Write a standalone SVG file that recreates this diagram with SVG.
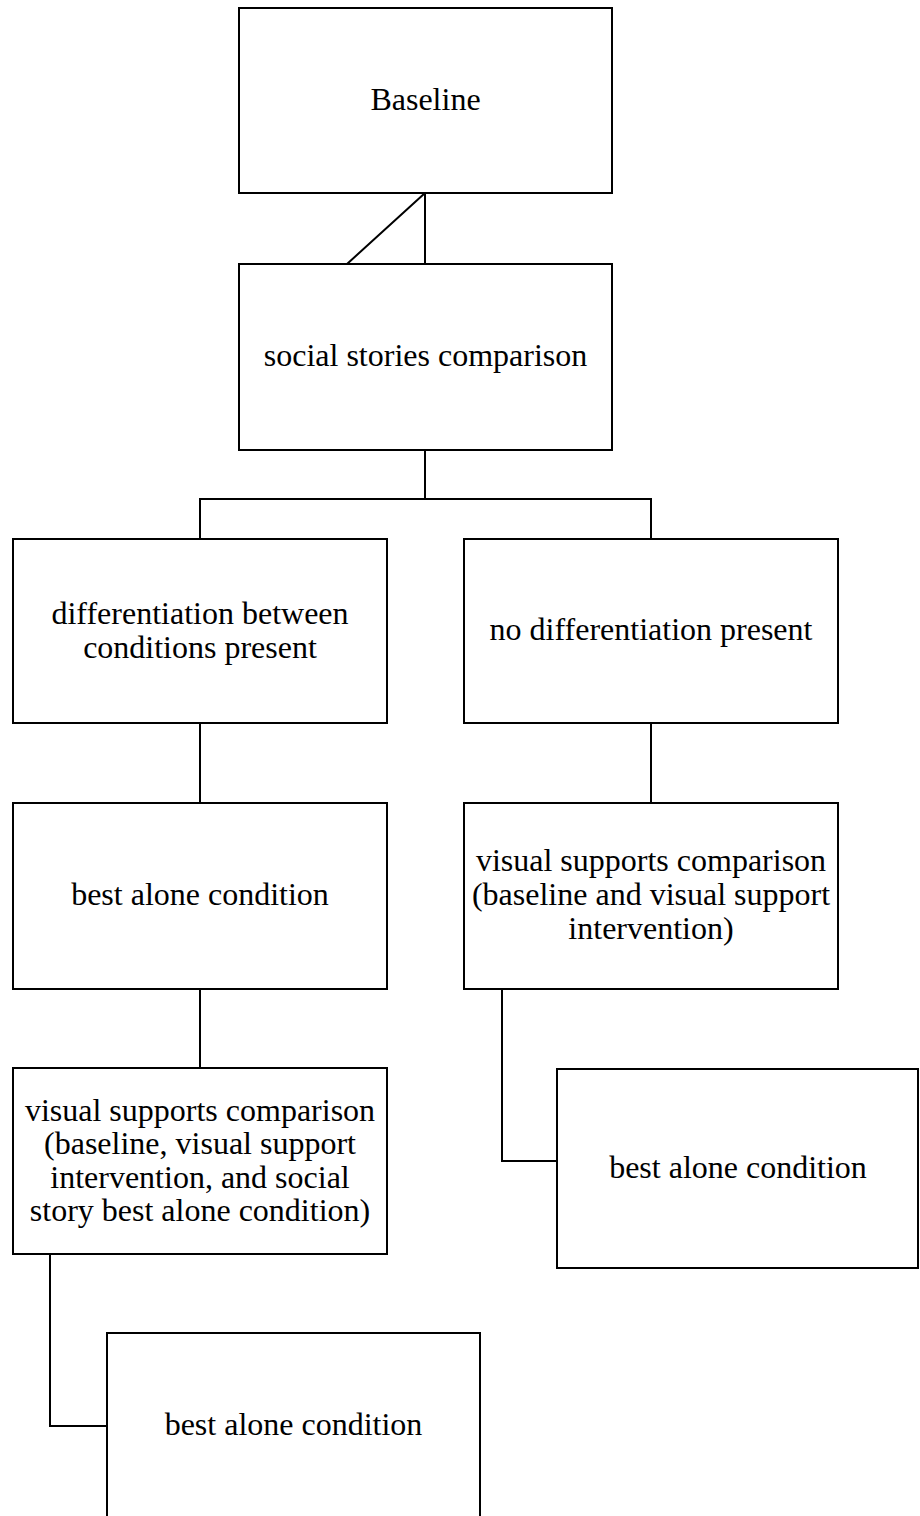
<svg xmlns="http://www.w3.org/2000/svg" width="920" height="1516" viewBox="0 0 920 1516">
<style>
rect.n{fill:#fff;stroke:#000;stroke-width:2}
text{font-family:"Liberation Serif","Times New Roman",serif;font-size:32px;fill:#000;text-anchor:middle}
.c{fill:none;stroke:#000;stroke-width:2}
</style>
<rect width="920" height="1516" fill="#fff"/>
<g id="connectors">
<path class="c" d="M425,193 V264 M425,193 L347,264"/>
<path class="c" d="M425,450 V499 M200,538 V499 H651 V538"/>
<path class="c" d="M200,723 V803 M651,723 V803"/>
<path class="c" d="M200,989 V1068"/>
<path class="c" d="M502,989 V1161 H557"/>
<path class="c" d="M50,1254 V1426 H107"/>
</g>
<g id="baseline"><rect class="n" x="239" y="8" width="373" height="185"/><text x="425.5" y="110">Baseline</text></g>
<g id="social"><rect class="n" x="239" y="264" width="373" height="186"/><text x="425.5" y="366">social stories comparison</text></g>
<g id="diff"><rect class="n" x="13" y="539" width="374" height="184"/><text x="200" y="624">differentiation between</text><text x="200" y="658">conditions present</text></g>
<g id="nodiff"><rect class="n" x="464" y="539" width="374" height="184"/><text x="651" y="640">no differentiation present</text></g>
<g id="best1"><rect class="n" x="13" y="803" width="374" height="186"/><text x="200" y="905">best alone condition</text></g>
<g id="vs2"><rect class="n" x="464" y="803" width="374" height="186"/><text x="651" y="871">visual supports comparison</text><text x="651" y="905">(baseline and visual support</text><text x="651" y="939">intervention)</text></g>
<g id="vs1"><rect class="n" x="13" y="1068" width="374" height="186"/><text x="200" y="1121">visual supports comparison</text><text x="200" y="1154">(baseline, visual support</text><text x="200" y="1188">intervention, and social</text><text x="200" y="1221">story best alone condition)</text></g>
<g id="best2"><rect class="n" x="557" y="1069" width="361" height="199"/><text x="738" y="1178">best alone condition</text></g>
<g id="best3"><rect class="n" x="107" y="1333" width="373" height="186"/><text x="293.5" y="1435">best alone condition</text></g>
</svg>
